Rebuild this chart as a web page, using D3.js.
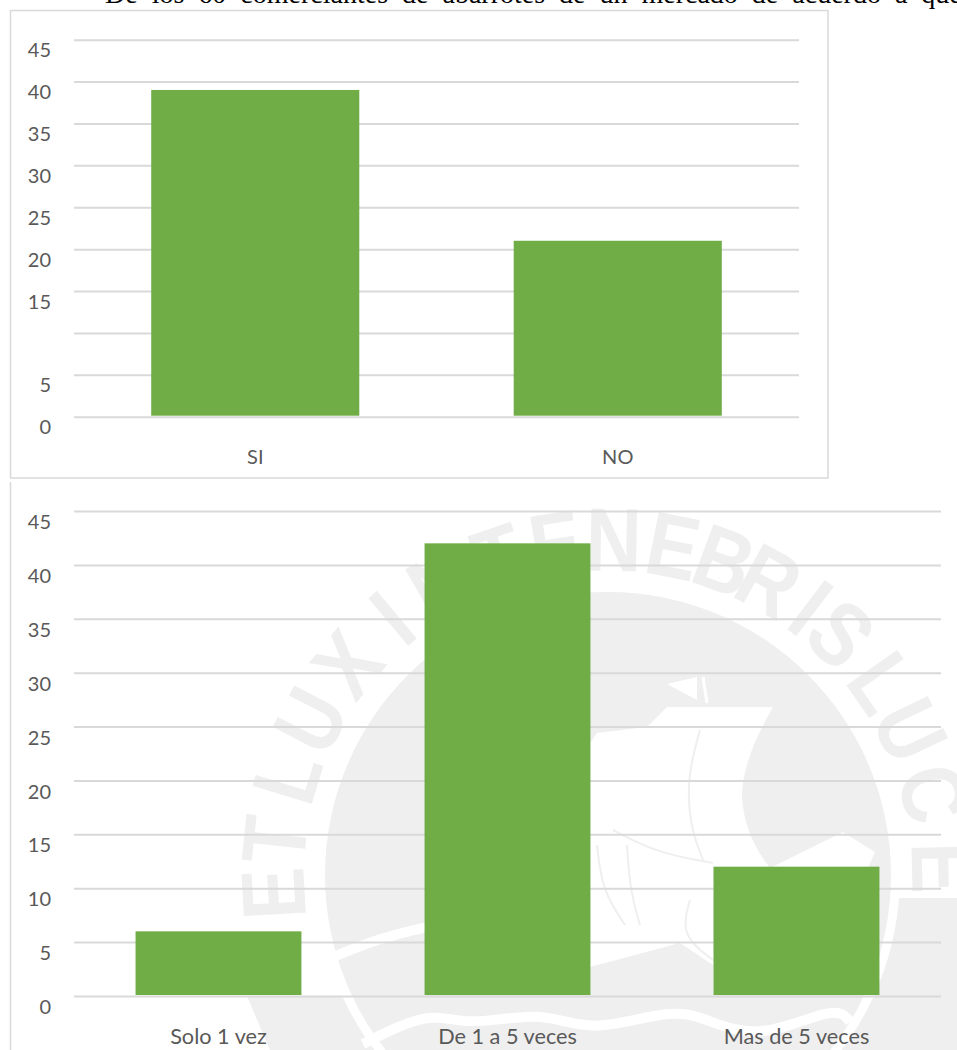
<!DOCTYPE html>
<html>
<head>
<meta charset="utf-8">
<script src="https://cdn.jsdelivr.net/npm/d3@7"></script>
<style>
  html, body { margin: 0; padding: 0; background: #fff; overflow: hidden; }
  svg { display: block; }
  text { font-family: Lato, "Open Sans", sans-serif; }
</style>
</head>
<body>
<div id="chart"></div>
<script>
  const headingText = "De los 60 comerciantes de abarrotes de un mercado de acuerdo a qué";

  const topCategories = ["SI", "NO"];
  const topValues = [39, 21];
  const topTicks = [0, 5, 10, 15, 20, 25, 30, 35, 40, 45];
  const topHiddenTicks = [10]; // the 10 label is missing in the source

  const bottomCategories = ["Solo 1 vez", "De 1 a 5 veces", "Mas de 5 veces"];
  const bottomValues = [6, 42, 12];
  const bottomTicks = [0, 5, 10, 15, 20, 25, 30, 35, 40, 45];

  // watermark letters and their angle around the seal, in degrees from the top
  const sealLetters = ["E", "T", "L", "U", "X", "I", "N", "T", "E", "N", "E", "B", "R", "I", "S", "L", "U", "C", "E"];
  const sealAngles = [-93.2, -84, -73, -62.5, -51, -40, -30, -19, -9, 1, 11.2, 20.3, 28.7, 37.2, 44, 55, 64.4, 76, 88.8];

  const svg = d3.select("#chart").append("svg")
    .attr("width", 957)
    .attr("height", 1050);

  const grey = "#efefef";
  const gridColor = "#d9d9d9";
  const barColor = "#70ad47";
  const textColor = "#595959";
  const pad = 0.426;

  /* seal sits behind the bottom chart */
  const seal = svg.append("g").attr("class", "seal");
  const cx = 608, cy = 875;

  seal.append("path").attr("fill", grey)
    .attr("d", "M247,996 L360,996 L390,1050 L270,1050 Z");
  seal.append("path").attr("fill", grey)
    .attr("d", "M880,898 L957,898 L957,1050 L800,1050 Z");
  seal.append("circle").attr("cx", cx).attr("cy", cy).attr("r", 292).attr("fill", "#fff");
  seal.append("circle").attr("cx", cx).attr("cy", cy).attr("r", 283).attr("fill", grey);

  // ship
  seal.append("path").attr("fill", "#fff")
    .attr("d", "M667,707 L773,707 Q742,760 742,797 Q744,835 770,868 L713,868 L713,965 L680,943 L590,967 L590,743 L597,733 L647,727 Z");
  seal.append("path").attr("fill", "#fff")
    .attr("d", "M667,684 L697,677 L697,700 Z");
  seal.append("path").attr("fill", "none").attr("stroke", "#fff").attr("stroke-width", 3)
    .attr("d", "M703,677 L707,703");
  seal.append("path").attr("fill", "#fff")
    .attr("d", "M770,868 L843,832 L875,852 L868,868 Z");

  // thin lines in the sail
  const ribbon = d3.line().curve(d3.curveBasis);
  const sailLines = [
    [[700, 730], [687, 777], [690, 827], [703, 860]],
    [[613, 830], [657, 853], [713, 863]],
    [[597, 845], [602, 890], [625, 925]],
    [[627, 845], [630, 890], [640, 925]],
    [[690, 900], [680, 935], [713, 960]]
  ];
  seal.selectAll("path.sail")
    .data(sailLines)
    .enter()
    .append("path")
    .attr("class", "sail")
    .attr("fill", "none")
    .attr("stroke", grey)
    .attr("stroke-width", 2)
    .attr("d", d => ribbon(d));

  // ribbons
  const ribbonLines = [
    [[363, 1044], [430, 1010], [466, 1027], [543, 1010], [590, 1034], [673, 1008], [707, 1020], [760, 1040], [837, 1005], [850, 1022]],
    [[333, 957], [380, 938], [427, 927]]
  ];
  seal.selectAll("path.ribbon")
    .data(ribbonLines)
    .enter()
    .append("path")
    .attr("class", "ribbon")
    .attr("fill", "none")
    .attr("stroke", "#fff")
    .attr("stroke-width", 10)
    .attr("d", d => ribbon(d));

  seal.selectAll("text.letter")
    .data(sealLetters)
    .enter()
    .append("text")
    .attr("class", "letter")
    .attr("text-anchor", "middle")
    .attr("transform", (d, i) => `translate(${cx},${cy}) rotate(${sealAngles[i]}) translate(0,-304) scale(0.86,1)`)
    .attr("fill", grey)
    .style("font-family", '"Liberation Sans Narrow", "Liberation Sans", sans-serif')
    .style("font-weight", "bold")
    .style("font-size", "90px")
    .text(d => d);

  svg.append("text")
    .attr("x", 105)
    .attr("y", 3)
    .attr("fill", "#000")
    .style("font-family", '"Liberation Serif", serif')
    .style("font-size", "28px")
    .style("word-spacing", "7px")
    .text(headingText);

  // frames
  svg.append("rect")
    .attr("x", 10.5).attr("y", 10.5)
    .attr("width", 817.5).attr("height", 467.5)
    .attr("fill", "none")
    .attr("stroke", gridColor)
    .attr("stroke-width", 1.5);

  svg.append("line")
    .attr("x1", 10.5).attr("x2", 10.5)
    .attr("y1", 482).attr("y2", 1050)
    .attr("stroke", gridColor)
    .attr("stroke-width", 1.5);

  function drawChart(opts) {
    const x = d3.scaleBand()
      .domain(opts.categories)
      .range([74, opts.right])
      .paddingInner(pad)
      .paddingOuter(pad / 2);

    const y = d3.scaleLinear()
      .domain([0, 45])
      .range([opts.bottom, opts.top]);

    const g = svg.append("g");

    const yAxis = g.append("g")
      .attr("transform", "translate(74,0)")
      .call(d3.axisLeft(y)
        .tickValues(opts.ticks)
        .tickSize(-(opts.right - 74))
        .tickPadding(23)
        .tickFormat(d => opts.hidden.includes(d) ? "" : d));
    yAxis.select(".domain").remove();
    yAxis.selectAll(".tick line")
      .attr("stroke", gridColor)
      .attr("stroke-width", 2);
    yAxis.selectAll(".tick text")
      .attr("dy", opts.labelShift)
      .attr("fill", textColor)
      .style("font-family", "Lato, sans-serif")
      .style("font-size", "20px");

    g.selectAll("rect.bar")
      .data(opts.values)
      .enter()
      .append("rect")
      .attr("class", "bar")
      .attr("x", (d, i) => x(opts.categories[i]))
      .attr("y", d => y(d))
      .attr("width", x.bandwidth())
      .attr("height", d => y(0) - y(d) - 1)
      .attr("fill", barColor);

    const xAxis = g.append("g")
      .attr("transform", `translate(0,${opts.bottom})`)
      .call(d3.axisBottom(x).tickSize(0).tickPadding(opts.catPadding));
    xAxis.select(".domain").remove();
    xAxis.selectAll(".tick text")
      .attr("fill", textColor)
      .style("font-family", "Lato, sans-serif")
      .style("font-size", opts.catSize);
  }

  drawChart({
    categories: topCategories, values: topValues, ticks: topTicks, hidden: topHiddenTicks,
    right: 799, top: 39.7, bottom: 416.7, labelShift: "0.85em", catPadding: 33, catSize: "20px"
  });

  drawChart({
    categories: bottomCategories, values: bottomValues, ticks: bottomTicks, hidden: [],
    right: 941, top: 511, bottom: 996, labelShift: "0.88em", catPadding: 33, catSize: "21.7px"
  });
</script>
</body>
</html>
